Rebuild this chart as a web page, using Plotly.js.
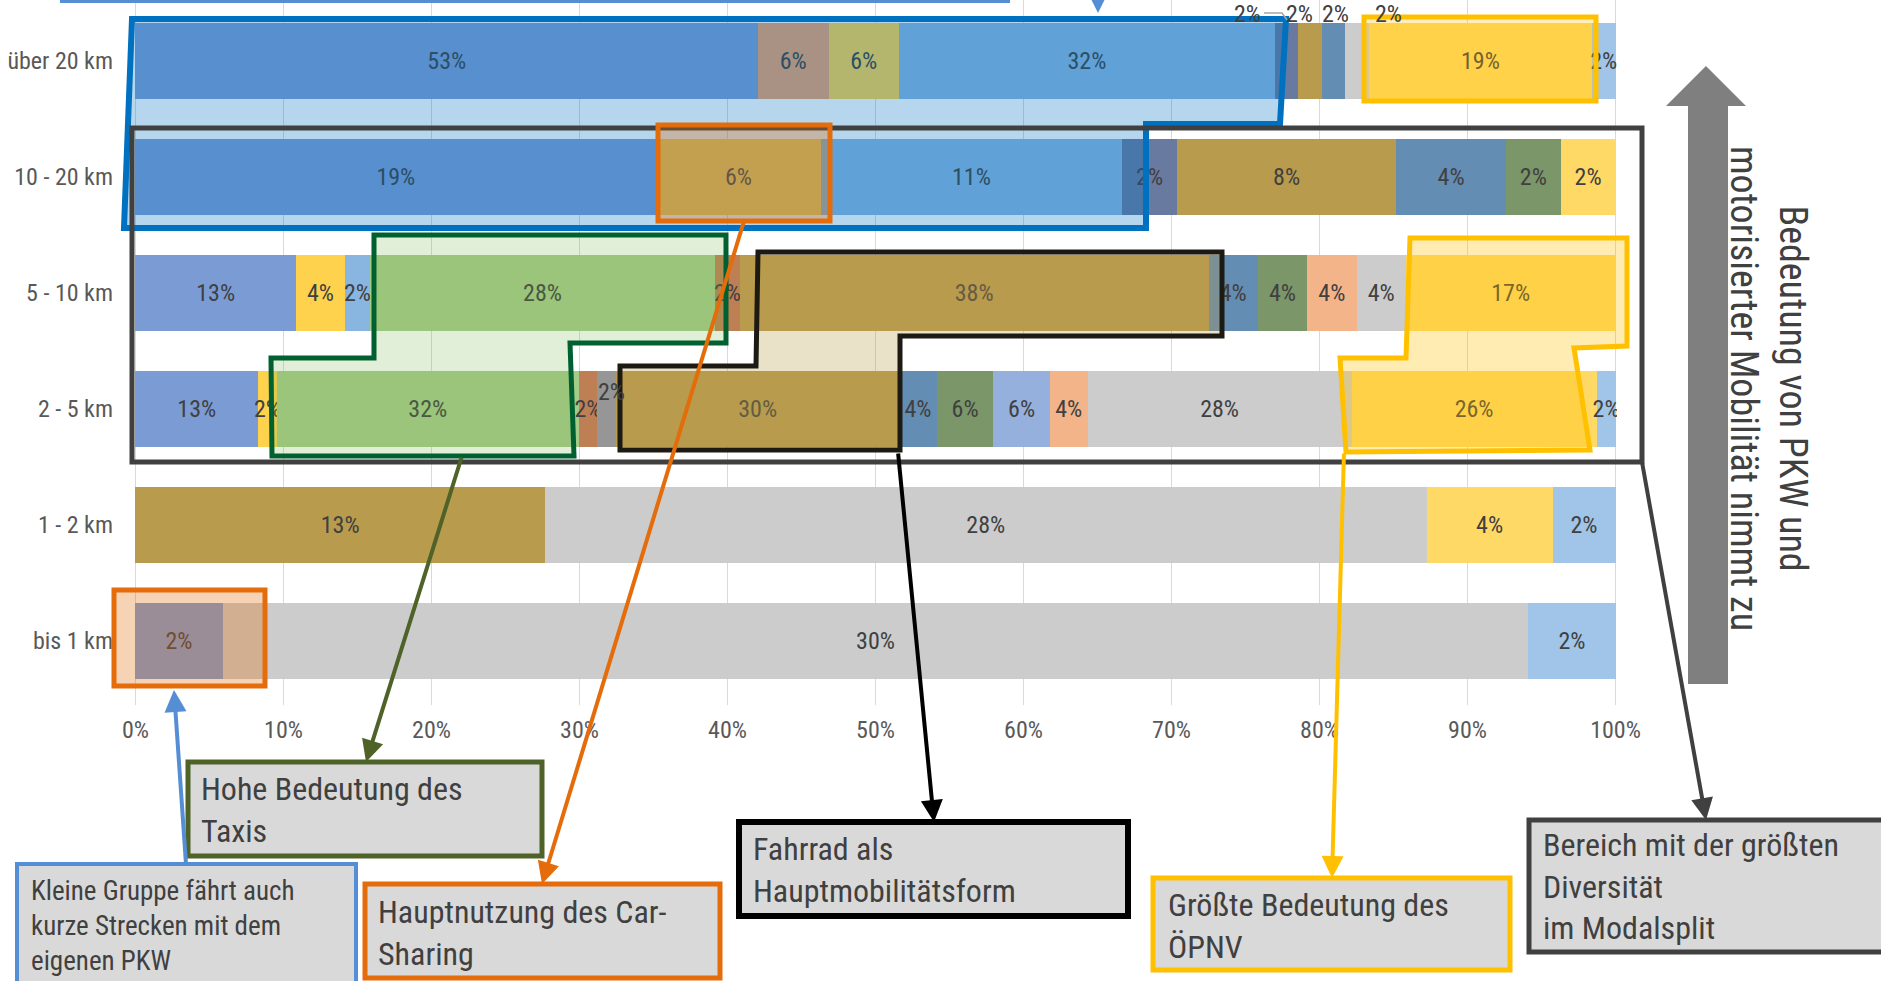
<!DOCTYPE html>
<html><head><meta charset="utf-8">
<script src="https://cdn.plot.ly/plotly-3.0.1.min.js"></script>
<style>html,body{margin:0;padding:0;background:#fff;overflow:hidden}#chart{width:1881px;height:981px;}</style>
</head><body><div id="chart"></div>
<script>
// ---------------- DATA ----------------
const categories = ['bis 1 km', '1 - 2 km', '2 - 5 km', '5 - 10 km', '10 - 20 km', 'über 20 km'];
const seriesNames = ['Eigener PKW', 'Mitfahrt PKW', 'Car-Sharing', 'Motorrad', 'Taxi', 'E-Scooter',
  'Sonstiges motorisiert', 'Fernbus', 'Fahrrad', 'E-Bike', 'Pedelec', 'Leihrad', 'Roller', 'zu Fuß', 'ÖPNV', 'Sonstiges'];
// values per category (bis 1 km ... über 20 km)
const eigenerPKW   = [2, 0, 13, 13, 19, 53];
const mitfahrtPKW  = [0, 0, 0, 0, 0, 6];
const carSharing   = [0, 0, 2, 4, 6, 6];
const motorrad     = [0, 0, 0, 2, 11, 32];
const taxi         = [0, 0, 32, 28, 0, 0];
const eScooter     = [0, 0, 2, 2, 0, 0];
const sonstMotor   = [0, 0, 2, 0, 0, 0];
const fernbus      = [0, 0, 0, 0, 2, 2];
const fahrrad      = [0, 13, 30, 38, 8, 2];
const eBike        = [0, 0, 4, 4, 4, 2];
const pedelec      = [0, 0, 6, 4, 2, 0];
const leihrad      = [0, 0, 6, 0, 0, 0];
const roller       = [0, 0, 4, 4, 0, 0];
const zuFuss       = [30, 28, 28, 4, 0, 2];
const oepnv        = [0, 4, 26, 17, 2, 19];
const sonstiges    = [2, 2, 2, 0, 0, 2];
const seriesValues = [eigenerPKW, mitfahrtPKW, carSharing, motorrad, taxi, eScooter, sonstMotor, fernbus,
  fahrrad, eBike, pedelec, leihrad, roller, zuFuss, oepnv, sonstiges];
const xTickVals = [0, 10, 20, 30, 40, 50, 60, 70, 80, 90, 100];

// ---------------- STYLE ----------------
const seriesColors = ['#7B9BD5', '#EFA06A', '#FFD24D', '#88B6E0', '#A5CB89', '#BF7F55', '#969696', '#687AA0',
  '#B89B4C', '#648DB4', '#7B9668', '#95B0DC', '#F4B48A', '#CCCCCC', '#FFD966', '#A0C5E8'];
const FONT = '"Liberation Sans Narrow", "Arial Narrow", "Roboto Condensed", Lato, sans-serif';
const TXT = '#404040';
// labels that are drawn offset from their segment (series index, category, pixel shift)
const offsetLabels = [
  {s: 7, c: 'über 20 km', dx: -39, dy: 47},
  {s: 8, c: 'über 20 km', dx: -11, dy: 47},
  {s: 9, c: 'über 20 km', dx: 2, dy: 47},
  {s: 13, c: 'über 20 km', dx: 31, dy: 47},
  {s: 6, c: '2 - 5 km', dx: 5, dy: 17}
];

// plot geometry (pixels)
const ML = 134, MR = 264, MT = 0, MB = 276, WIDTH = 1881, HEIGHT = 981;
const PW = WIDTH - ML - MR, PH = HEIGHT - MT - MB;
const PX = p => (p - ML) / PW;
const PY = p => (MT + PH - p) / PH;
const path = pts => 'M' + pts.map(p => PX(p[0]).toFixed(5) + ',' + PY(p[1]).toFixed(5)).join(' L') + ' Z';

// ---------------- TRACES ----------------
const isOffset = (s, ci) => offsetLabels.some(o => o.s === s && o.c === categories[ci]);
const traces = seriesValues.map((vals, s) => ({
  type: 'bar', orientation: 'h', name: seriesNames[s],
  y: categories, x: vals,
  marker: {color: seriesColors[s], line: {width: 0}},
  text: vals.map((v, ci) => (v > 0 && !isOffset(s, ci)) ? v + '%' : ''),
  textposition: 'inside', insidetextanchor: 'middle', textangle: 0, constraintext: 'none',
  textfont: {family: FONT, size: 24, color: TXT},
  hoverinfo: 'skip'
}));

// offset labels computed from the data
const annotations = offsetLabels.map(o => {
  const ci = categories.indexOf(o.c);
  const total = seriesValues.reduce((a, arr) => a + arr[ci], 0);
  let before = 0;
  for (let k = 0; k < o.s; k++) before += seriesValues[k][ci];
  const xc = (before + seriesValues[o.s][ci] / 2) / total * 100;
  return {x: xc, y: o.c, xref: 'x', yref: 'y', text: seriesValues[o.s][ci] + '%', showarrow: false,
    xanchor: 'center', yanchor: 'middle',
    xshift: o.dx, yshift: o.dy, font: {family: FONT, size: 24, color: TXT}};
});

// ---------------- OVERLAY SHAPES ----------------
const shapes = [];
function poly(pts, line, width, fill) {
  shapes.push({type: 'path', xref: 'paper', yref: 'paper', path: path(pts), layer: 'above',
    line: {color: line, width: width}, fillcolor: fill || 'rgba(0,0,0,0)'});
}
function rect(x0, y0, x1, y1, line, width, fill) {
  shapes.push({type: 'rect', xref: 'paper', yref: 'paper', x0: PX(x0), x1: PX(x1), y0: PY(y1), y1: PY(y0),
    layer: 'above', line: {color: line, width: width}, fillcolor: fill || 'rgba(0,0,0,0)'});
}
// top (cut-off) callout
rect(60, -40, 1010, 3, '#558ED5', 0, '#558ED5');
// PKW region
poly([[132, 19], [1286, 19], [1280, 124], [1146, 124], [1146, 228], [124, 228]], '#0070C0', 6, 'rgba(0,112,192,0.29)');
// diversity region
rect(132, 128, 1642, 462, '#404040', 5);
// taxi region
poly([[374, 235], [726, 235], [726, 343], [570, 343], [574, 456], [272, 456], [271, 358], [374, 358]], '#006030', 5, 'rgba(112,173,71,0.21)');
// bike region
poly([[758, 252], [1222, 252], [1222, 336], [900, 336], [900, 450], [620, 450], [620, 366], [756, 366]], '#1C1A12', 5, 'rgba(184,155,76,0.3)');
// public transport regions
poly([[1410, 238], [1627, 238], [1627, 346], [1574, 348], [1590, 450], [1346, 452], [1340, 358], [1406, 358]], '#FFC000', 5, 'rgba(255,192,0,0.3)');
rect(1364, 17, 1596, 101, '#FFC000', 5, 'rgba(255,192,0,0.27)');
// car sharing / short trips
rect(658, 125, 830, 221, '#E46C0A', 5, 'rgba(228,108,10,0.3)');
rect(114, 590, 265, 686, '#E46C0A', 5, 'rgba(228,108,10,0.3)');
// leader line of the top labels
shapes.push({type: 'path', xref: 'paper', yref: 'paper', layer: 'above',
  path: 'M' + PX(1264) + ',' + PY(13) + ' L' + PX(1282) + ',' + PY(13) + ' L' + PX(1287) + ',' + PY(20),
  line: {color: '#A6A6A6', width: 1.5}});
// big grey arrow
poly([[1688, 684], [1688, 106], [1666, 106], [1706, 66], [1746, 106], [1728, 106], [1728, 684]], '#7F7F7F', 0, '#7F7F7F');

// callout boxes
const boxes = [
  {b: [17, 864, 356, 992], c: '#558ED5', w: 4, tx: 29, ty: 926, size: 27, t: 'Kleine Gruppe fährt auch<br>kurze Strecken mit dem<br>eigenen PKW'},
  {b: [188, 762, 542, 856], c: '#4F6228', w: 5, tx: 199, ty: 810, size: 32, t: 'Hohe Bedeutung des<br>Taxis'},
  {b: [365, 884, 720, 978], c: '#E46C0A', w: 5, tx: 376, ty: 933, size: 32, t: 'Hauptnutzung des Car-<br>Sharing'},
  {b: [739, 822, 1128, 916], c: '#000000', w: 6, tx: 751, ty: 870, size: 32, t: 'Fahrrad als<br>Hauptmobilitätsform'},
  {b: [1153, 878, 1510, 970], c: '#FFC000', w: 5, tx: 1166, ty: 926, size: 32, t: 'Größte Bedeutung des<br>ÖPNV'},
  {b: [1529, 820, 1892, 952], c: '#404040', w: 5, tx: 1541, ty: 886, size: 32, t: 'Bereich mit der größten<br>Diversität<br>im Modalsplit'}
];
boxes.forEach(bx => {
  rect(bx.b[0], bx.b[1], bx.b[2], bx.b[3], bx.c, bx.w, '#D9D9D9');
  annotations.push({xref: 'paper', yref: 'paper', x: PX(bx.tx), y: PY(bx.ty), xanchor: 'left', yanchor: 'middle',
    align: 'left', text: bx.t, showarrow: false, font: {family: FONT, size: bx.size, color: TXT}});
});

// arrows: head, tail (pixels)
const arrows = [
  {h: [174, 690], t: [186, 864], c: '#558ED5'},
  {h: [366, 762], t: [462, 456], c: '#4F6228'},
  {h: [542, 884], t: [744, 221], c: '#E46C0A'},
  {h: [934, 822], t: [898, 452], c: '#000000'},
  {h: [1332, 878], t: [1344, 452], c: '#FFC000'},
  {h: [1706, 820], t: [1642, 462], c: '#404040'},
  {h: [1098, 13], t: [1098, -20], c: '#558ED5'}
];
arrows.forEach(a => annotations.push({xref: 'paper', yref: 'paper', x: PX(a.h[0]), y: PY(a.h[1]), text: '',
  showarrow: true, axref: 'pixel', ayref: 'pixel', ax: a.t[0] - a.h[0], ay: a.t[1] - a.h[1],
  arrowhead: 2, arrowsize: 1.1, arrowwidth: 4, arrowcolor: a.c, standoff: 0, startstandoff: 0}));

// rotated side text
annotations.push({xref: 'paper', yref: 'paper', x: PX(1769), y: PY(388), xanchor: 'center', yanchor: 'middle',
  textangle: 90, showarrow: false,
  text: 'Bedeutung von PKW und<br>motorisierter Mobilität nimmt zu', align: 'center',
  font: {family: FONT, size: 38, color: TXT}});

const layout = {
  width: WIDTH, height: HEIGHT, barmode: 'stack', barnorm: 'percent', bargap: 0.34,
  showlegend: false, paper_bgcolor: '#ffffff', plot_bgcolor: '#ffffff',
  margin: {l: ML, r: MR, t: MT, b: MB, pad: 0},
  xaxis: {range: [-0.1, 100.1], tickvals: xTickVals, ticktext: xTickVals.map(v => v + '%'),
    showgrid: true, gridcolor: '#D9D9D9', gridwidth: 1.5, zeroline: false, showline: false, ticks: '',
    ticklabelstandoff: 8, tickfont: {family: FONT, size: 24, color: '#595959'}},
  yaxis: {type: 'category', categoryorder: 'array', categoryarray: categories, range: [-0.5517, 5.5259],
    showgrid: false, zeroline: false, showline: false, ticks: '', ticklabelstandoff: 20,
    tickfont: {family: FONT, size: 24, color: '#595959'}},
  shapes: shapes, annotations: annotations, hovermode: false
};
Plotly.newPlot('chart', traces, layout, {displayModeBar: false, staticPlot: true});
</script></body></html>
